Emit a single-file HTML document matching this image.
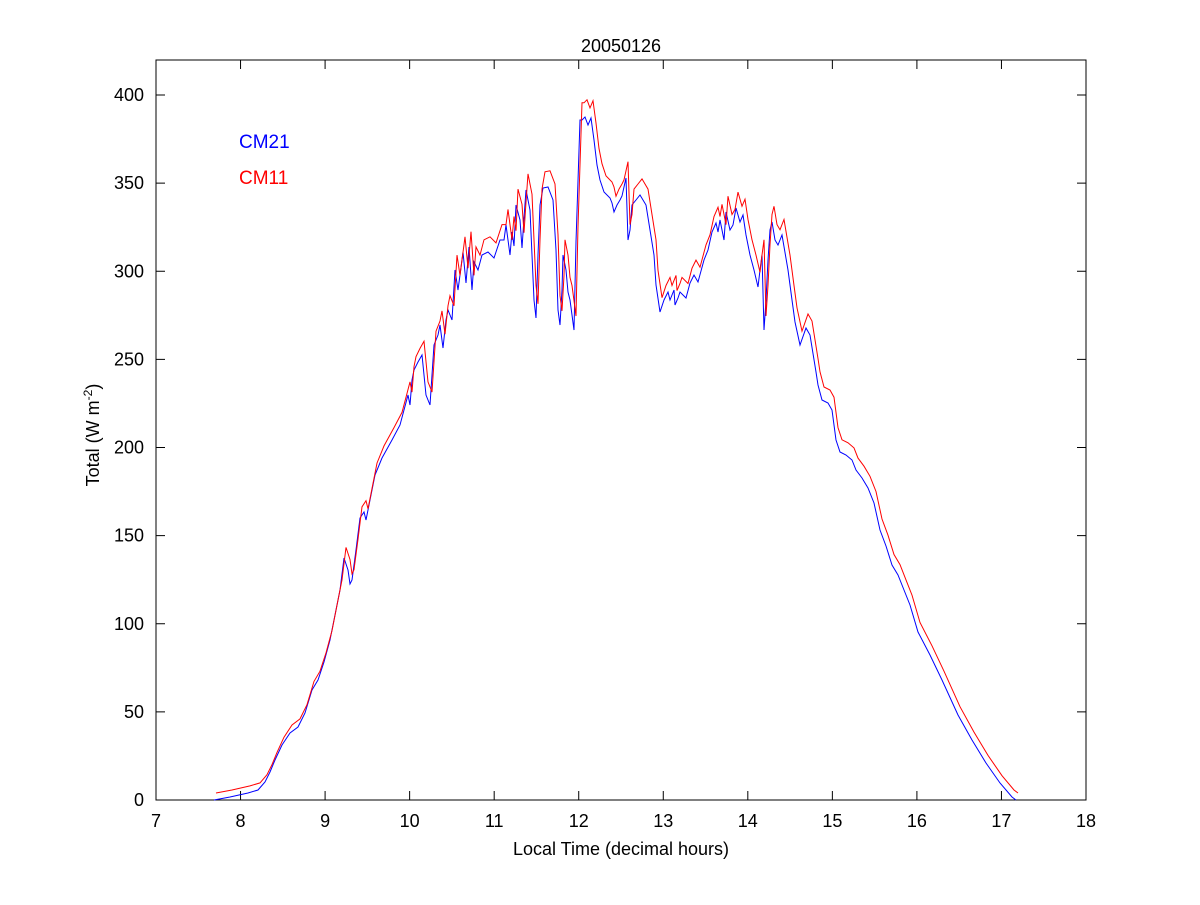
<!DOCTYPE html>
<html><head><meta charset="utf-8"><style>
body{margin:0;background:#fff;}
svg text{font-family:"Liberation Sans",sans-serif;font-size:18px;fill:#000;}
</style></head><body>
<svg id="s" width="1200" height="900" xmlns="http://www.w3.org/2000/svg">
<rect x="0" y="0" width="1200" height="900" fill="#fff"/>
<rect x="156" y="60" width="930" height="740" fill="none" stroke="#000" stroke-width="1"/>
<g id="ticks" stroke="#000" stroke-width="1"></g>
<g id="labels"></g>
<text x="621" y="52" text-anchor="middle">20050126</text>
<text x="621" y="855" text-anchor="middle">Local Time (decimal hours)</text>
<text transform="translate(99,435) rotate(-90)" text-anchor="middle">Total (W m<tspan dy="-7" font-size="12">-2</tspan><tspan dy="7">)</tspan></text>
<text x="239" y="148" style="fill:#0000ff;font-size:19px">CM21</text>
<text x="239" y="184" style="fill:#ff0000;font-size:19px">CM11</text>
<polyline id="blue" fill="none" stroke="#0000ff" stroke-width="1"/>
<polyline id="red" fill="none" stroke="#ff0000" stroke-width="1"/>
</svg>
<script>
var ns="http://www.w3.org/2000/svg",t=document.getElementById("ticks"),l=document.getElementById("labels");
function ln(a,b,c,d){var e=document.createElementNS(ns,"line");e.setAttribute("x1",a);e.setAttribute("y1",b);e.setAttribute("x2",c);e.setAttribute("y2",d);t.appendChild(e);}
function tx(x,y,s,a){var e=document.createElementNS(ns,"text");e.setAttribute("x",x);e.setAttribute("y",y);e.setAttribute("text-anchor",a);e.textContent=s;l.appendChild(e);}
for(var h=7;h<=18;h++){var x=156+(h-7)*84.545;ln(x,800,x,791);ln(x,60,x,69);tx(x,827,h,"middle");}
for(var v=0;v<=400;v+=50){var y=800-v*1.7625;ln(156,y,165,y);ln(1086,y,1077,y);tx(144,y+6,v,"end");}
var p=[214,800,230,797,248,793,258,790,265,782,270,772,275,760,282,745,290,733,298,727,305,713,312,690,318,680,324,662,330,640,336,610,340,590,344,558,348,570,350,584,352,580,356,550,360,518,364,512,366,520,370,500,375,475,382,458,392,440,400,425,404,410,408,395,410,405,412,380,414,370,418,362,422,355,426,395,430,405,434,345,438,335,440,325,443,348,446,320,448,310,452,320,455,270,458,290,460,275,463,252,466,283,469,247,472,290,474,262,478,270,482,255,488,252,494,258,500,240,504,240,506,225,510,255,512,232,514,246,516,205,520,220,522,248,524,218,526,190,530,210,532,255,534,300,536,318,538,255,540,205,543,188,548,187,553,200,556,250,558,310,560,325,562,290,563,255,566,270,568,292,570,300,574,330,576,242,580,120,582,120,585,117,588,125,591,118,594,140,597,165,600,180,604,192,610,198,612,203,614,212,617,205,620,200,622,196,626,178,628,240,630,230,632,205,636,200,640,195,646,205,650,230,654,255,656,285,660,312,664,300,668,292,670,300,674,290,675,305,678,298,680,292,686,298,690,283,694,275,698,282,704,260,708,250,712,232,716,223,718,232,720,220,724,240,726,212,730,230,733,225,736,208,740,222,743,215,746,235,750,255,754,270,758,287,760,270,762,255,764,330,766,300,768,260,770,230,772,222,775,240,778,245,782,235,788,270,792,300,795,322,800,345,806,328,810,335,816,372,818,385,822,400,828,403,832,410,836,440,840,452,846,455,852,460,856,470,862,478,868,488,874,503,880,530,886,546,892,565,898,575,904,590,910,605,918,632,930,655,942,680,958,715,972,740,986,763,1000,783,1012,797,1016,800];
var b=[],r=[];
for(var i=0;i<p.length;i+=2){b.push(p[i]+","+p[i+1]);r.push((p[i]+2)+","+(800-(800-p[i+1])*1.015-7).toFixed(1));}
document.getElementById("blue").setAttribute("points",b.join(" "));
document.getElementById("red").setAttribute("points",r.join(" "));
</script>
</body></html>
